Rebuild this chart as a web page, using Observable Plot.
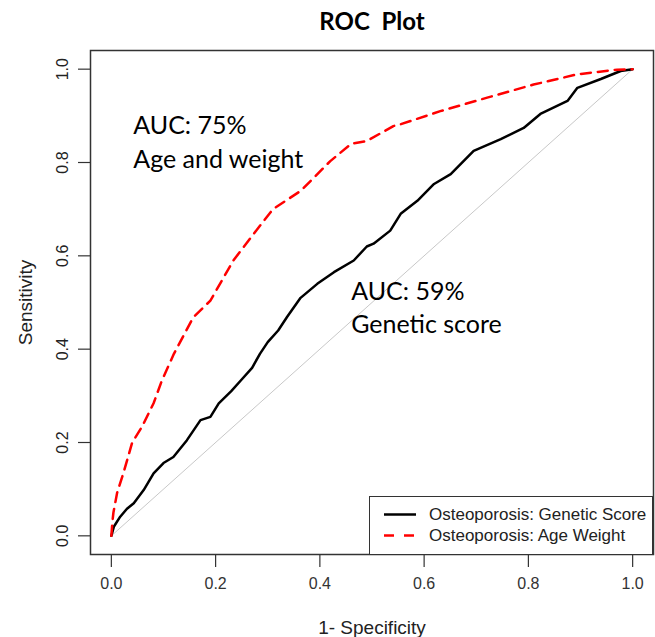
<!DOCTYPE html>
<html><head><meta charset="utf-8">
<script src="https://cdn.jsdelivr.net/npm/d3@7"></script>
<script src="https://cdn.jsdelivr.net/npm/@observablehq/plot@0.6"></script>
<style>
body{margin:0;background:#fff;}
#wrap{position:relative;width:655px;height:637px;}
#legend{position:absolute;left:369px;top:496px;width:284px;height:59px;border:1.5px solid #333;background:#fff;box-sizing:border-box;font-family:"Liberation Sans",Arial,sans-serif;font-size:17px;color:#222;}
.row{position:absolute;left:0;height:21px;line-height:21px;white-space:nowrap;}
.row svg{position:absolute;left:13px;top:0;}
.row span{position:absolute;left:59px;top:0;}
</style></head><body><div id="wrap"></div>
<script>
const ticks = [0, 0.2, 0.4, 0.6, 0.8, 1.0];
const tickLabels = ["0.0", "0.2", "0.4", "0.6", "0.8", "1.0"];
const seriesNames = ["Osteoporosis: Genetic Score", "Osteoporosis: Age Weight"];
const geneticFpr = [0, 0.005, 0.017, 0.03, 0.043, 0.062, 0.081, 0.1, 0.119, 0.145, 0.171, 0.19, 0.206, 0.23, 0.25, 0.27, 0.285, 0.3, 0.32, 0.337, 0.363, 0.395, 0.427, 0.465, 0.49, 0.503, 0.535, 0.555, 0.587, 0.619, 0.651, 0.695, 0.747, 0.791, 0.823, 0.875, 0.894, 0.939, 0.977, 1];
const geneticTpr = [0, 0.02, 0.041, 0.058, 0.07, 0.098, 0.134, 0.156, 0.169, 0.205, 0.248, 0.255, 0.284, 0.31, 0.335, 0.36, 0.39, 0.415, 0.44, 0.469, 0.51, 0.54, 0.565, 0.59, 0.62, 0.626, 0.654, 0.69, 0.718, 0.754, 0.775, 0.825, 0.85, 0.874, 0.904, 0.932, 0.96, 0.979, 0.996, 1];
const ageFpr = [0, 0.002, 0.004, 0.011, 0.023, 0.04, 0.059, 0.081, 0.097, 0.12, 0.157, 0.19, 0.234, 0.273, 0.31, 0.363, 0.42, 0.46, 0.49, 0.541, 0.555, 0.631, 0.721, 0.81, 0.894, 0.97, 1];
const ageTpr = [0, 0.03, 0.05, 0.092, 0.134, 0.2, 0.234, 0.284, 0.333, 0.39, 0.468, 0.504, 0.59, 0.647, 0.70, 0.739, 0.803, 0.84, 0.846, 0.878, 0.882, 0.91, 0.939, 0.967, 0.989, 0.999, 1];
const diagonal = [0, 1];
const annotationText = ["AUC: 75%", "Age and weight", "AUC: 59%", "Genetic score"];
const annotationX = [0.042, 0.042, 0.46, 0.46];
const annotationY = [0.861, 0.788, 0.506, 0.434];

const genetic = geneticFpr.map((x, i) => ({x, y: geneticTpr[i]}));
const age = ageFpr.map((x, i) => ({x, y: ageTpr[i]}));
const annotations = annotationText.map((t, i) => ({t, x: annotationX[i], y: annotationY[i]}));
const tickData = ticks.map((v, i) => ({v, label: tickLabels[i]}));

const chart = Plot.plot({
  width: 655, height: 637,
  marginLeft: 90, marginRight: 2, marginTop: 50, marginBottom: 83,
  x: {domain: [-0.04, 1.04], axis: null, label: null},
  y: {domain: [-0.04, 1.04], axis: null, label: null},
  style: {fontFamily: "'Liberation Sans', Arial, sans-serif", fontSize: "16px", background: "#fff", color: "#333"},
  marks: [
    Plot.line(diagonal, {x: d => d, y: d => d, stroke: "#c8c8c8", strokeWidth: 1}),
    Plot.line(genetic, {x: "x", y: "y", stroke: "black", strokeWidth: 2.5, strokeLinejoin: "miter"}),
    Plot.line(age, {x: "x", y: "y", stroke: "#ff0000", strokeWidth: 2.5, strokeDasharray: "10,7"}),
    Plot.frame({stroke: "#333", strokeWidth: 1.5}),
    Plot.axisX({ticks, label: null, tickSize: 13, tickPadding: 10, tickFormat: (d, i) => tickLabels[i], fontSize: 16, strokeWidth: 1.2}),
    Plot.axisY({ticks, label: null, tickSize: 12, tickFormat: () => "", strokeWidth: 1.2}),
    Plot.text(tickData, {y: "v", text: "label", frameAnchor: "left", dx: -28, rotate: -90, textAnchor: "middle", lineAnchor: "middle", fontSize: 16, fill: "#222"}),
    Plot.text(["1- Specificity"], {text: d => d, frameAnchor: "bottom", dy: 73, lineAnchor: "middle", fontSize: 19, fill: "#222"}),
    Plot.text(["Sensitivity"], {text: d => d, frameAnchor: "left", dx: -65, rotate: -90, textAnchor: "middle", lineAnchor: "middle", fontSize: 19, fill: "#222"}),
    Plot.text(["ROC  Plot"], {text: d => d, frameAnchor: "top", dy: -28, lineAnchor: "middle", fontSize: 24, fontWeight: "bold", fontFamily: "Lato", fill: "#000"}),
    Plot.text(annotations, {x: "x", y: "y", text: "t", textAnchor: "start", lineAnchor: "bottom", fontSize: 25, fontFamily: "Lato", fill: "#000"})
  ]
});
const wrap = document.getElementById("wrap");
wrap.appendChild(chart);
const legend = document.createElement("div");
legend.id = "legend";
const styles = [{stroke: "black", dash: null}, {stroke: "#ff0000", dash: "10,10"}];
seriesNames.forEach((name, i) => {
  const row = document.createElement("div");
  row.className = "row";
  row.style.top = (7 + i * 21) + "px";
  row.style.width = "100%";
  const dash = styles[i].dash ? `stroke-dasharray="${styles[i].dash}"` : "";
  row.innerHTML = `<svg width="34" height="21"><line x1="1" x2="33" y1="10.5" y2="10.5" stroke="${styles[i].stroke}" stroke-width="2.5" ${dash}/></svg><span>${name}</span>`;
  legend.appendChild(row);
});
wrap.appendChild(legend);
</script>
</body></html>
